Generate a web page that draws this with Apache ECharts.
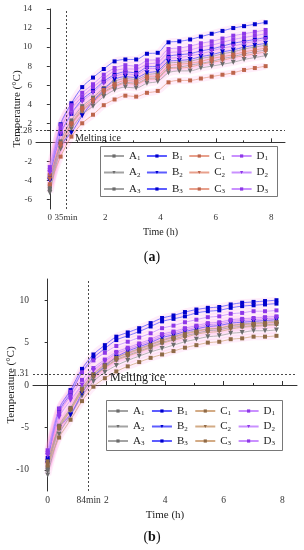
<!DOCTYPE html>
<html><head><meta charset="utf-8">
<script src="https://cdn.jsdelivr.net/npm/echarts@6/dist/echarts.min.js"></script>
<style>html,body{margin:0;padding:0;background:#fff}#c{width:304px;height:550px}</style>
</head><body><div id="c"></div>
<script>
// time points (h)
const times = [0, 0.39, 0.78, 1.17, 1.56, 1.95, 2.34, 2.73, 3.12, 3.51, 3.9, 4.29, 4.68, 5.07, 5.46, 5.85, 6.24, 6.63, 7.02, 7.41, 7.8];

// chart (a)
const aA1 = [-4.6, 0.1, 2.3, 3.8, 4.7, 5.7, 6.4, 6.7, 6.6, 7.1, 7.3, 8.3, 8.4, 8.5, 8.8, 9.0, 9.3, 9.5, 9.8, 10.0, 10.2];
const aA2 = [-5.3, -0.7, 1.4, 2.9, 3.8, 4.8, 5.5, 5.8, 5.7, 6.2, 6.4, 7.3, 7.5, 7.5, 7.8, 8.0, 8.2, 8.4, 8.7, 8.9, 9.1];
const aA3 = [-4.9, -0.3, 1.9, 3.4, 4.3, 5.3, 5.9, 6.3, 6.2, 6.7, 6.8, 7.8, 7.9, 8.1, 8.3, 8.5, 8.8, 9.0, 9.3, 9.5, 9.7];
const aB1 = [-3.5, 0.9, 3.0, 4.5, 5.4, 6.4, 7.1, 7.4, 7.3, 7.9, 8.0, 9.0, 9.2, 9.3, 9.6, 9.8, 10.1, 10.4, 10.6, 10.8, 11.0];
const aB2 = [-4.0, -0.3, 1.0, 2.8, 4.3, 5.5, 6.6, 6.9, 6.8, 7.3, 7.5, 8.5, 8.6, 8.7, 9.0, 9.2, 9.5, 9.7, 10.0, 10.2, 10.4];
const aB3 = [-3.8, 1.9, 4.1, 5.8, 6.8, 7.7, 8.5, 8.7, 8.7, 9.3, 9.4, 10.5, 10.6, 10.8, 11.1, 11.4, 11.7, 12.0, 12.2, 12.4, 12.6];
const aC1 = [-3.4, -0.1, 2.0, 3.6, 4.5, 5.5, 6.1, 6.5, 6.4, 6.9, 7.0, 8.0, 8.2, 8.3, 8.5, 8.8, 9.0, 9.2, 9.5, 9.7, 9.9];
const aC2 = [-3.9, -0.4, 1.8, 3.3, 4.2, 5.2, 5.8, 6.2, 6.1, 6.6, 6.7, 7.7, 7.8, 7.9, 8.2, 8.4, 8.6, 8.9, 9.1, 9.3, 9.5];
const aC3 = [-4.4, -1.5, 0.6, 2.0, 2.9, 3.9, 4.5, 4.9, 4.8, 5.2, 5.4, 6.3, 6.5, 6.5, 6.7, 6.9, 7.1, 7.3, 7.6, 7.8, 8.0];
const aD1 = [-2.6, 1.8, 3.9, 5.2, 6.1, 7.1, 7.8, 8.1, 8.0, 8.6, 8.7, 9.8, 9.9, 10.1, 10.4, 10.6, 10.9, 11.2, 11.4, 11.6, 11.8];
const aD2 = [-3.2, 0.9, 3.0, 4.3, 5.2, 6.2, 6.9, 7.2, 7.1, 7.7, 7.8, 8.8, 8.9, 9.1, 9.3, 9.6, 9.9, 10.1, 10.4, 10.6, 10.8];
const aD3 = [-2.9, 1.4, 3.5, 4.8, 5.8, 6.7, 7.5, 7.7, 7.7, 8.2, 8.4, 9.4, 9.5, 9.7, 10.0, 10.2, 10.5, 10.8, 11.0, 11.2, 11.4];

// chart (b)
const bA1 = [-9.7, -4.8, -2.7, -0.4, 1.3, 2.4, 3.2, 3.8, 4.3, 4.8, 5.3, 5.7, 6.1, 6.4, 6.6, 6.7, 7.0, 7.2, 7.3, 7.4, 7.5];
const bA2 = [-10.6, -5.8, -3.6, -1.3, 0.4, 1.5, 2.3, 2.9, 3.4, 3.9, 4.3, 4.7, 5.1, 5.4, 5.7, 5.8, 6.1, 6.2, 6.4, 6.4, 6.5];
const bA3 = [-10.0, -5.1, -2.9, -0.7, 1.0, 2.1, 3.0, 3.5, 4.0, 4.5, 5.0, 5.4, 5.8, 6.1, 6.4, 6.5, 6.8, 6.9, 7.0, 7.1, 7.2];
const bB1 = [-8.9, -3.1, -1.0, 1.5, 3.2, 4.3, 5.3, 5.8, 6.3, 6.9, 7.5, 7.8, 8.1, 8.5, 8.7, 8.8, 9.1, 9.3, 9.4, 9.5, 9.6];
const bB2 = [-9.3, -5.0, -3.5, -1.0, 1.0, 2.2, 3.3, 4.0, 4.5, 5.0, 5.6, 5.9, 6.3, 6.6, 6.9, 7.0, 7.3, 7.4, 7.5, 7.6, 7.7];
const bB3 = [-8.6, -2.8, -0.6, 1.9, 3.6, 4.7, 5.7, 6.2, 6.7, 7.3, 7.9, 8.2, 8.6, 8.9, 9.1, 9.2, 9.5, 9.7, 9.8, 9.9, 10.0];
const bC1 = [-9.0, -4.9, -2.8, -0.5, 1.2, 2.3, 3.2, 3.7, 4.2, 4.7, 5.2, 5.6, 6.0, 6.3, 6.6, 6.7, 7.0, 7.1, 7.2, 7.3, 7.4];
const bC2 = [-9.4, -5.2, -3.0, -0.8, 0.9, 2.0, 2.9, 3.4, 3.9, 4.4, 4.9, 5.3, 5.6, 6.0, 6.2, 6.3, 6.6, 6.8, 6.9, 7.0, 7.1];
const bC3 = [-9.5, -6.2, -4.1, -1.9, -0.2, 0.8, 1.6, 2.2, 2.7, 3.2, 3.6, 4.0, 4.4, 4.7, 5.0, 5.1, 5.4, 5.5, 5.7, 5.7, 5.8];
const bD1 = [-7.7, -2.8, -0.8, 1.5, 2.9, 3.8, 4.6, 5.1, 5.6, 6.1, 6.7, 7.0, 7.4, 7.7, 8.0, 8.1, 8.4, 8.5, 8.7, 8.7, 8.8];
const bD2 = [-8.3, -3.8, -1.8, 0.0, 1.7, 2.8, 3.7, 4.2, 4.7, 5.2, 5.8, 6.1, 6.5, 6.8, 7.1, 7.2, 7.5, 7.6, 7.7, 7.8, 7.9];
const bD3 = [-8.0, -3.3, -1.3, 0.6, 2.0, 3.0, 3.9, 4.4, 4.9, 5.4, 6.0, 6.3, 6.7, 7.0, 7.3, 7.4, 7.7, 7.8, 7.9, 8.0, 8.1];

// melting markers [time (h), temperature]
const aMelt = [35 / 60, 1.28];
const bMelt = [84 / 60, 1.31];
const aMeltLabel = '35min';
const bMeltLabel = '84min';

// tick labels
const aYTicks = [-6, -4, -2, 0, 1.28, 2, 4, 6, 8, 10, 12, 14];
const bYTicks = [-10, -5, 0, 1.31, 5, 10];
const xTicks = [0, 2, 4, 6, 8];

const FONT = 'Liberation Serif';
const TXT = '#333';

const colA = {
  A: {line: '#a3a3a3', mark: '#6c6c6c'},
  B: {line: '#5c5cff', mark: '#0000cc'},
  C: {line: '#e8a08c', mark: '#bd654c'},
  D: {line: '#c990ff', mark: '#8e38e8'}
};
const colB = {
  A: {line: '#a3a3a3', mark: '#6c6c6c'},
  B: {line: '#5c5cff', mark: '#0000cc'},
  C: {line: '#d3ab85', mark: '#8f6a47'},
  D: {line: '#c990ff', mark: '#8e38e8'}
};

const setA = {A1: aA1, A2: aA2, A3: aA3, B1: aB1, B2: aB2, B3: aB3, C1: aC1, C2: aC2, C3: aC3, D1: aD1, D2: aD2, D3: aD3};
const setB = {A1: bA1, A2: bA2, A3: bA3, B1: bB1, B2: bB2, B3: bB3, C1: bC1, C2: bC2, C3: bC3, D1: bD1, D2: bD2, D3: bD3};

const series = [];
function addSet(prefix, set, xi, yi, cols, melt) {
  let first = true;
  Object.keys(set).forEach(key => {
    const c = cols[key[0]];
    const tri = key[1] === '2';
    const pts = times.map((t, i) => [t, set[key][i]]);
    series.push({
      type: 'line', name: '_band' + prefix + key, xAxisIndex: xi, yAxisIndex: yi,
      data: pts, showSymbol: false, smooth: 0.3, silent: true, z: 1,
      lineStyle: {width: 7, color: 'rgba(255,120,215,0.13)'}
    });
    const s = {
      type: 'line', name: prefix + key, xAxisIndex: xi, yAxisIndex: yi,
      data: pts, smooth: 0.3, z: 3,
      symbol: tri ? 'triangle' : 'rect', symbolRotate: tri ? 180 : 0,
      symbolSize: tri ? 5 : 4,
      lineStyle: {width: 0.8, color: c.line},
      itemStyle: {color: c.mark},
      emphasis: {disabled: true}
    };
    if (first) {
      s.markLine = {
        silent: true, symbol: 'none', label: {show: false},
        lineStyle: {color: '#333', type: [2, 2], width: 0.9},
        data: [{xAxis: melt[0]}, {yAxis: melt[1]}]
      };
      first = false;
    }
    series.push(s);
  });
}
addSet('a', setA, 0, 0, colA, aMelt);
addSet('b', setB, 1, 1, colB, bMelt);

function xAxis(gi, melt, meltLabel, fs, nameFs, gap) {
  return {
    type: 'value', gridIndex: gi, min: -0.5, max: 8.5,
    name: 'Time (h)', nameLocation: 'middle', nameGap: gap, nameMoveOverlap: false,
    nameTextStyle: {fontFamily: FONT, fontSize: nameFs, color: '#222'},
    axisLine: {show: true, lineStyle: {color: '#333', width: 1}},
    axisTick: {show: true, inside: true, length: 4, customValues: xTicks, lineStyle: {color: '#333'}},
    minorTick: {show: true, splitNumber: 2, length: 2, lineStyle: {color: '#333'}},
    axisLabel: {
      customValues: [0, melt[0], 2, 4, 6, 8], margin: 4, hideOverlap: false,
      fontFamily: FONT, fontSize: fs, color: TXT,
      formatter: v => Math.abs(v - melt[0]) < 1e-6 ? meltLabel : String(v)
    },
    splitLine: {show: false}
  };
}
function yAxis(gi, min, max, ticks, fs, nameFs, gap) {
  return {
    type: 'value', gridIndex: gi, min: min, max: max,
    name: 'Temperature (°C)', nameLocation: 'middle', nameGap: gap, nameMoveOverlap: false,
    nameTextStyle: {fontFamily: FONT, fontSize: nameFs, color: '#222'},
    axisLine: {show: true, lineStyle: {color: '#333', width: 1}},
    axisTick: {show: true, inside: false, length: 3, customValues: ticks, lineStyle: {color: '#333'}},
    axisLabel: {customValues: ticks, margin: 4, hideOverlap: false, fontFamily: FONT, fontSize: fs, color: TXT},
    splitLine: {show: false}
  };
}

const richLeg = {
  m: {fontFamily: FONT, fontSize: 11, color: '#222', lineHeight: 12},
  s: {fontFamily: FONT, fontSize: 7, color: '#222', lineHeight: 12, padding: [5, 0, 0, 0]}
};
function legendRow(prefix, n, left, top, gap, tw) {
  return {
    data: ['A', 'B', 'C', 'D'].map(g => prefix + g + n),
    left: left, top: top, orient: 'horizontal', padding: 0,
    itemWidth: 20, itemHeight: 4, itemGap: gap, selectedMode: false,
    formatter: name => '{m|' + name[1] + '}{s|' + name[2] + '}',
    textStyle: {width: tw, fontFamily: FONT, fontSize: 11, color: '#222', rich: richLeg}
  };
}

const chart = echarts.init(document.getElementById('c'));
chart.setOption({
  animation: false,
  backgroundColor: '#fff',
  grid: [
    {left: 36, top: 9, width: 249, height: 200, containLabel: false, outerBoundsMode: 'none'},
    {left: 33, top: 279, width: 264, height: 212, containLabel: false, outerBoundsMode: 'none'}
  ],
  xAxis: [xAxis(0, aMelt, aMeltLabel, 9, 10, 18), xAxis(1, bMelt, bMeltLabel, 9.5, 11, 19)],
  yAxis: [yAxis(0, -7, 14, aYTicks, 9, 11, 13), yAxis(1, -12.5, 12.5, bYTicks, 9.5, 11, 16)],
  legend: [
    legendRow('a', '1', 103, 150, 5.5, 14),
    legendRow('a', '2', 103, 166.5, 5.5, 14),
    legendRow('a', '3', 103, 183, 5.5, 14),
    legendRow('b', '1', 107, 405, 6.5, 15),
    legendRow('b', '2', 107, 420.5, 6.5, 15),
    legendRow('b', '3', 107, 435, 6.5, 15)
  ],
  graphic: [
    {type: 'rect', shape: {x: 100.5, y: 146.5, width: 177, height: 50}, style: {fill: 'none', stroke: '#555', lineWidth: 0.8}, z: 10},
    {type: 'rect', shape: {x: 106.5, y: 400.5, width: 176, height: 50}, style: {fill: 'none', stroke: '#555', lineWidth: 0.8}, z: 10},
    {type: 'text', left: 75, top: 133, style: {text: 'Melting ice', fontFamily: FONT, fontSize: 10, fill: '#222'}, z: 10},
    {type: 'text', left: 110, top: 372, style: {text: 'Melting ice', fontFamily: FONT, fontSize: 12, fill: '#222'}, z: 10},
    {type: 'text', left: 'center', top: 250, style: {text: '{n|(}{b|a}{n|)}', rich: {n: {fontFamily: FONT, fontSize: 14, fill: '#111'}, b: {fontFamily: FONT, fontSize: 14, fontWeight: 'bold', fill: '#111'}}}},
    {type: 'text', left: 'center', top: 530, style: {text: '{n|(}{b|b}{n|)}', rich: {n: {fontFamily: FONT, fontSize: 14, fill: '#111'}, b: {fontFamily: FONT, fontSize: 14, fontWeight: 'bold', fill: '#111'}}}}
  ],
  series: series
});
</script>
</body></html>
